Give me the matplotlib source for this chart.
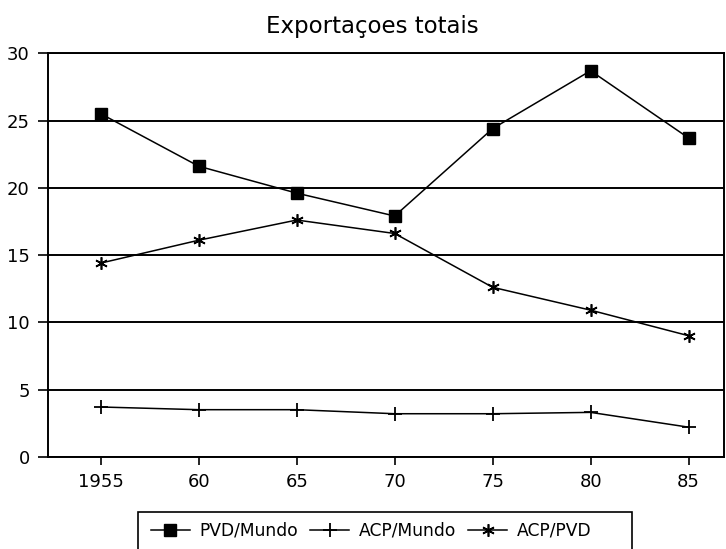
import matplotlib.pyplot as plt
from matplotlib.patches import Rectangle

# data
years = [1955, 1960, 1965, 1970, 1975, 1980, 1985]
year_labels = ['1955', '60', '65', '70', '75', '80', '85']
pvd_mundo = [25.5, 21.6, 19.6, 17.9, 24.4, 28.7, 23.7]
acp_mundo = [3.7, 3.5, 3.5, 3.2, 3.2, 3.3, 2.2]
acp_pvd = [14.4, 16.1, 17.6, 16.6, 12.6, 10.9, 9.0]
y_ticks = [0, 5, 10, 15, 20, 25, 30]

plt.rcParams['font.family'] = 'DejaVu Sans'

fig = plt.figure(figsize=(7.26, 5.49), dpi=100)
ax = fig.add_axes([0.066, 0.168, 0.931, 0.735])

ax.plot(years, pvd_mundo, color='black', lw=1.1, marker='s', ms=8,
        label='PVD/Mundo')
ax.plot(years, acp_mundo, color='black', lw=1.1, marker='+', ms=10, mew=1.3,
        label='ACP/Mundo')
ax.plot(years, acp_pvd, color='black', lw=1.1, marker=(6, 2, 0), ms=9,
        mew=1.2, label='ACP/PVD')

ax.set_xlim(1952.3, 1986.8)
ax.set_ylim(0, 30)
ax.set_yticks(y_ticks)
ax.set_xticks(years)
ax.set_xticklabels(year_labels)
ax.yaxis.grid(True, color='black', lw=1.4)
ax.set_axisbelow(True)
for s in ax.spines.values():
    s.set_color('black')
    s.set_linewidth(1.4)
ax.tick_params(axis='both', labelsize=13, color='black', width=1.2)
ax.tick_params(axis='y', length=7, pad=6)
ax.tick_params(axis='x', length=6, pad=6)

fig.text(372 / 726, 1 - 27 / 549, 'Exportaçoes totais', ha='center',
         va='center', fontsize=16.5)

leg = fig.legend(loc='upper left', bbox_to_anchor=(144 / 726, 1 - 515 / 549),
                 ncol=3, frameon=False, fontsize=12.3, handlelength=2.3,
                 handletextpad=0.55, columnspacing=0.7, borderaxespad=0)
fig.patches.append(Rectangle((138 / 726, -0.05), (632 - 138) / 726,
                             0.05 + 1 - 512 / 549, transform=fig.transFigure,
                             fill=False, edgecolor='black', lw=1.2))

fig.savefig('out.png', dpi=100)
